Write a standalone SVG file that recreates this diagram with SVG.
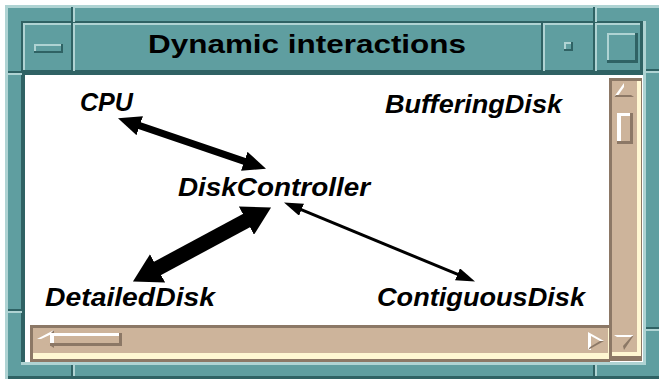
<svg xmlns="http://www.w3.org/2000/svg" width="659" height="379" viewBox="0 0 659 379">
  <style>
    .teal { fill: #5f9ea0; }
    .tlight { fill: #afd3d3; }
    .tdark { fill: #2f6264; }
    .tan { fill: #cdb49b; }
    .brown { fill: #8c7866; }
    .cream { fill: #fff7d2; }
    .hi { fill: #ffffff; }
    .title { font-family: "Liberation Sans", Arial, sans-serif; font-weight: bold; font-size: 26px; fill: #000; }
    .label { font-family: "Liberation Sans", Arial, sans-serif; font-weight: bold; font-style: italic; font-size: 25px; fill: #000; }
    .conn { stroke: #000; fill: none; stroke-linecap: butt; }
  </style>
  <defs>
    <marker id="headS" markerUnits="userSpaceOnUse" markerWidth="19" markerHeight="13" viewBox="0 0 19 13" refX="1" refY="6.5" orient="auto-start-reverse">
      <path d="M0,0 L19,6.5 L0,13 z" fill="#000"/>
    </marker>
    <marker id="headM" markerUnits="userSpaceOnUse" markerWidth="23" markerHeight="20" viewBox="0 0 23 20" refX="1" refY="10" orient="auto-start-reverse">
      <path d="M0,0 L23,10 L0,20 z" fill="#000"/>
    </marker>
    <marker id="headL" markerUnits="userSpaceOnUse" markerWidth="28" markerHeight="32" viewBox="0 0 28 32" refX="1" refY="16" orient="auto-start-reverse">
      <path d="M0,0 L28,16 L0,32 z" fill="#000"/>
    </marker>
  </defs>

  <!-- page -->
  <rect x="0" y="0" width="659" height="379" fill="#ffffff"/>

  <!-- window frame -->
  <g id="frame">
    <rect class="tlight" x="5" y="5" width="654" height="374"/>
    <rect class="teal" x="8" y="8" width="651" height="368"/>
    <rect class="tdark" x="8" y="376" width="651" height="3"/>
    <!-- inner sunken edge -->
    <rect class="tdark" x="21" y="21" width="624" height="2"/>
    <rect class="tdark" x="21" y="21" width="2" height="344"/>
    <rect class="tlight" x="643" y="21" width="3" height="344"/>
    <rect class="tlight" x="21" y="362" width="625" height="3"/>
    <!-- resize handle marks -->
    <rect class="tdark" x="71" y="7" width="2" height="15"/>
    <rect class="tlight" x="73" y="7" width="2" height="15"/>
    <rect class="tdark" x="593" y="7" width="2" height="15"/>
    <rect class="tlight" x="595" y="7" width="2" height="15"/>
    <rect class="tdark" x="8" y="71" width="14" height="2"/>
    <rect class="tlight" x="8" y="73" width="14" height="2"/>
    <rect class="tdark" x="646" y="69" width="13" height="2"/>
    <rect class="tlight" x="646" y="71" width="13" height="2"/>
    <rect class="tdark" x="8" y="309" width="14" height="2"/>
    <rect class="tlight" x="8" y="311" width="14" height="2"/>
    <rect class="tdark" x="646" y="327" width="13" height="2"/>
    <rect class="tlight" x="646" y="329" width="13" height="2"/>
    <rect class="tdark" x="71" y="365" width="2" height="11"/>
    <rect class="tlight" x="73" y="365" width="2" height="11"/>
    <rect class="tdark" x="593" y="365" width="2" height="11"/>
    <rect class="tlight" x="595" y="365" width="2" height="11"/>
  </g>

  <!-- title bar -->
  <g id="titlebar">
    <rect class="teal" x="23" y="23" width="620" height="50"/>
    <rect class="tlight" x="23" y="23" width="620" height="2"/>
    <rect class="tlight" x="23" y="23" width="2" height="50"/>
    <rect class="tdark" x="23" y="70" width="620" height="3"/>
    <rect class="tdark" x="640" y="23" width="3" height="50"/>
    <!-- button separators -->
    <rect class="tdark" x="71" y="23" width="2" height="50"/>
    <rect class="tlight" x="73" y="23" width="2" height="48"/>
    <rect class="tdark" x="541" y="23" width="2" height="50"/>
    <rect class="tlight" x="543" y="23" width="2" height="48"/>
    <rect class="tdark" x="593" y="23" width="2" height="50"/>
    <rect class="tlight" x="595" y="23" width="2" height="48"/>
    <!-- menu button bar -->
    <rect class="tdark" x="34" y="44" width="29" height="9"/>
    <rect class="tlight" x="34" y="44" width="27" height="7"/>
    <rect class="teal" x="36" y="46" width="25" height="5"/>
    <!-- minimize button -->
    <rect class="tdark" x="564" y="42" width="9" height="9"/>
    <rect class="tlight" x="564" y="42" width="7" height="7"/>
    <rect class="teal" x="566" y="44" width="5" height="5"/>
    <!-- maximize button -->
    <rect class="tdark" x="607" y="33" width="31" height="30"/>
    <rect class="tlight" x="607" y="33" width="28" height="27"/>
    <rect class="teal" x="609" y="35" width="26" height="25"/>
    <text class="title" x="148" y="53" textLength="318" lengthAdjust="spacingAndGlyphs">Dynamic interactions</text>
  </g>

  <!-- scrolled drawing area -->
  <g id="canvas">
    <rect x="23" y="73" width="620" height="289" fill="#ffffff"/>
    <rect class="tdark" x="23" y="73" width="620" height="2"/>
    <rect class="tdark" x="23" y="73" width="2" height="289"/>
  </g>

  <!-- vertical scrollbar -->
  <g id="vscroll">
    <rect class="brown" x="609" y="78" width="33" height="283"/>
    <rect class="cream" x="612" y="81" width="29" height="275"/>
    <rect class="tan" x="612" y="81" width="25" height="271"/>
    <!-- up arrow -->
    <path d="M624,83 L634,97 L614,97 z" class="tan"/>
    <path d="M624,83 L614,97 L617,97 L624,87 z" class="hi"/>
    <path d="M634,97 L614,97 L616,95 L631,95 z" class="brown"/>
    <!-- thumb -->
    <rect class="brown" x="617" y="113" width="16" height="31"/>
    <rect class="hi" x="617" y="113" width="13" height="28"/>
    <rect class="tan" x="621" y="116" width="9" height="25"/>
    <!-- down arrow -->
    <path d="M614,335 L634,335 L624,350 z" class="tan"/>
    <path d="M614,335 L634,335 L631,337 L617,337 z" class="hi"/>
    <path d="M634,335 L624,350 L623,346 L631,337 z" class="brown"/>
  </g>

  <!-- horizontal scrollbar -->
  <g id="hscroll">
    <rect class="brown" x="30" y="325" width="580" height="37"/>
    <rect class="cream" x="33" y="328" width="576" height="31"/>
    <rect class="tan" x="33" y="328" width="575" height="25"/>
    <!-- left arrow -->
    <path d="M37,339 L54,330 L54,348 z" class="tan"/>
    <path d="M37,339 L54,330 L54,333 L41,339 z" class="hi"/>
    <path d="M54,330 L54,348 L51,346 L51,333 z" class="brown"/>
    <!-- thumb -->
    <rect class="brown" x="50" y="333" width="72" height="13"/>
    <rect class="hi" x="50" y="333" width="69" height="10"/>
    <rect class="tan" x="54" y="336" width="65" height="7"/>
    <!-- right arrow -->
    <path d="M588,332 L604,341 L588,350 z" class="tan"/>
    <path d="M588,332 L604,341 L600,341 L591,336 L591,350 L588,350 z" class="hi"/>
    <path d="M604,341 L588,350 L590,347 L600,341 z" class="brown"/>
  </g>

  <!-- connectors -->
  <g id="connectors">
    <line class="conn" x1="138.8" y1="125.4" x2="245.2" y2="161.6" stroke-width="7" marker-start="url(#headM)" marker-end="url(#headM)"/>
    <line class="conn" x1="247.3" y1="220.2" x2="156.7" y2="268.8" stroke-width="15" marker-start="url(#headL)" marker-end="url(#headL)"/>
    <line class="conn" x1="300.6" y1="209.3" x2="458.4" y2="274.7" stroke-width="3" marker-start="url(#headS)" marker-end="url(#headS)"/>
  </g>

  <!-- nodes -->
  <g id="node-cpu">
    <text class="label" x="80" y="111" textLength="53" lengthAdjust="spacingAndGlyphs">CPU</text>
  </g>
  <g id="node-bufferingdisk">
    <text class="label" x="385" y="113" textLength="177" lengthAdjust="spacingAndGlyphs">BufferingDisk</text>
  </g>
  <g id="node-diskcontroller">
    <text class="label" x="178" y="196" textLength="192" lengthAdjust="spacingAndGlyphs">DiskController</text>
  </g>
  <g id="node-detaileddisk">
    <text class="label" x="45" y="306" textLength="170" lengthAdjust="spacingAndGlyphs">DetailedDisk</text>
  </g>
  <g id="node-contiguousdisk">
    <text class="label" x="377" y="306" textLength="208" lengthAdjust="spacingAndGlyphs">ContiguousDisk</text>
  </g>
</svg>
